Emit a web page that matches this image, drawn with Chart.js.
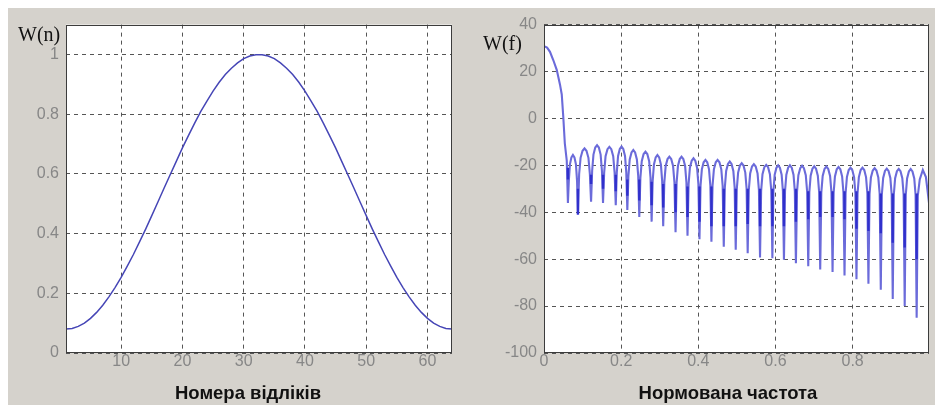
<!DOCTYPE html>
<html>
<head>
<meta charset="utf-8">
<script src="https://cdn.jsdelivr.net/npm/chart.js@4.4.0/dist/chart.umd.min.js"></script>
<style>
    body { margin: 0; width: 935px; height: 405px; overflow: hidden; position: relative; background: #fff; font-family: "Liberation Sans", Arial, sans-serif; }
    #panel { position: absolute; left: 8px; top: 8px; width: 927px; height: 397px; background: #d5d2cc; }
    canvas { position: absolute; top: 8px; }
    #winChart { left: 8px; }
    #specChart { left: 470px; }
    .ylab { position: absolute; font-family: "Liberation Serif", "DejaVu Serif", serif; font-size: 20px; line-height: 20px; color: #111; }
    .xlab { position: absolute; font-weight: bold; font-size: 18.5px; line-height: 22px; color: #111; transform: translate(-50%, -50%); white-space: nowrap; }
</style>
</head>
<body>
<div id="panel"></div>
<canvas id="winChart" width="462" height="397"></canvas>
<canvas id="specChart" width="465" height="397"></canvas>
<div class="ylab" style="left:18px; top:24px;">W(n)</div>
<div class="ylab" style="left:483px; top:33px;">W(f)</div>
<div class="xlab" style="left:248px; top:393px;">Номера відліків</div>
<div class="xlab" style="left:728px; top:393px;">Нормована частота</div>

<script>
// --- left plot: window samples ---
const winTicksX = [10, 20, 30, 40, 50, 60];
const winTicksY = [0, 0.2, 0.4, 0.6, 0.8, 1];
const hammingW = [
    0.080, 0.082, 0.089, 0.100, 0.116, 0.136, 0.160, 0.188, 0.219, 0.253, 0.291, 0.330, 0.372, 0.415, 0.460, 0.506,
    0.552, 0.597, 0.642, 0.687, 0.729, 0.770, 0.809, 0.844, 0.877, 0.907, 0.933, 0.954, 0.972, 0.986, 0.995, 0.999,
    0.999, 0.995, 0.986, 0.972, 0.954, 0.933, 0.907, 0.877, 0.844, 0.809, 0.770, 0.729, 0.687, 0.642, 0.597, 0.552,
    0.506, 0.460, 0.415, 0.372, 0.330, 0.291, 0.253, 0.219, 0.188, 0.160, 0.136, 0.116, 0.100, 0.089, 0.082, 0.080
];

// --- right plot: spectrum in dB ---
const specTicksX = [0, 0.2, 0.4, 0.6, 0.8];
const specTicksY = [-100, -80, -60, -40, -20, 0, 20, 40];
// main lobe
const mainF  = [0, 0.008, 0.0155, 0.024, 0.033, 0.0415, 0.046, 0.05, 0.054, 0.059];
const mainDb = [30.8, 30.2, 28.4, 24.9, 20.7, 14.4, 10.2, 0.6, -10.7, -18];
// nulls between side lobes
const nullF  = [0.062, 0.088, 0.122, 0.153, 0.186, 0.216, 0.247, 0.279, 0.309, 0.341, 0.372, 0.403, 0.434, 0.466, 0.497,
                0.528, 0.56, 0.592, 0.622, 0.653, 0.685, 0.716, 0.748, 0.779, 0.81, 0.841, 0.873, 0.904, 0.935, 0.966];
const nullDb = [-36, -41, -35.5, -36, -37, -39, -42, -44, -46, -48.5, -50, -51.5, -52.6, -54.7, -56,
                -57.5, -59.3, -59.6, -60.2, -61.7, -63, -64.4, -65.5, -67, -68.6, -70.5, -73, -77, -80, -85];
// side lobe tops (one per gap between nulls)
const lobePeakDb = [-15.6, -12.8, -11.4, -12.1, -12, -13.5, -14.2, -15.6, -16.3, -16.3, -17, -17.7, -17.7, -18.4, -19.1,
                    -19.5, -19.8, -20, -20, -20.2, -20.4, -20.5, -20.7, -21, -21, -21.2, -21.4, -21.5, -21.6];
// arch profile of one lobe: position inside the lobe and level under its top
const lobeShapeT  = [0.09, 0.2, 0.35, 0.5, 0.65, 0.8, 0.91];
const lobeShapeDb = [-11, -4, -1, 0, -1, -4, -11];
// last half lobe up to the end of the axis
const tailF  = [0.969, 0.974, 0.982, 0.99, 0.998];
const tailDb = [-33, -26, -22, -25, -36];
// darker overlapping part of each null spike
const darkTopDb    = [-21, -30, -24, -24, -24, -26, -26, -27, -28, -28, -29, -29, -29, -30, -30,
                      -30, -30, -30, -30, -30, -31, -31, -31, -31, -31, -31, -32, -32, -32, -32];
const darkBottomDb = [-26, -41, -28, -30, -31, -33, -35, -37, -38, -40, -42, -44, -46, -46, -46,
                      -45, -46, -46, -46, -44, -43, -42, -42, -43, -47, -48, -49, -53, -55, -60];

const GRID = '#555555';
const TICK_FONT = { family: '"Liberation Sans", Arial, sans-serif', size: 16 };
const TICK_COLOR = '#878787';

const plotBox = {
    id: 'plotBox',
    beforeDraw(chart) {
        const { ctx, chartArea: a } = chart;
        ctx.save();
        ctx.fillStyle = '#ffffff';
        ctx.fillRect(a.left, a.top, a.right - a.left, a.bottom - a.top);
        ctx.restore();
    },
    afterDraw(chart) {
        const { ctx, chartArea: a } = chart;
        ctx.save();
        ctx.strokeStyle = '#3c3c3c';
        ctx.lineWidth = 1;
        ctx.strokeRect(Math.round(a.left) + 0.5, Math.round(a.top) + 0.5, Math.round(a.right - a.left) - 1, Math.round(a.bottom - a.top) - 1);
        ctx.restore();
    }
};

function axes(xMin, xMax, xTicks, yMin, yMax, yTicks, yWidth) {
    const common = {
        type: 'linear',
        grid: { color: GRID, lineWidth: 1, drawTicks: false },
        border: { display: false, dash: [4, 4] },
        ticks: { color: TICK_COLOR, font: TICK_FONT, callback: v => String(v) }
    };
    return {
        x: {
            ...common, min: xMin, max: xMax,
            ticks: { ...common.ticks, padding: -1, maxRotation: 0 },
            afterBuildTicks: s => { s.ticks = xTicks.map(v => ({ value: v })); },
            afterFit: s => { s.height = 52; }
        },
        y: {
            ...common, min: yMin, max: yMax,
            ticks: { ...common.ticks, padding: 7 },
            afterBuildTicks: s => { s.ticks = yTicks.map(v => ({ value: v })); },
            afterFit: s => { s.width = yWidth; }
        }
    };
}

function baseOptions(scales, pad) {
    return {
        responsive: false,
        animation: false,
        events: [],
        layout: { padding: pad },
        plugins: { legend: { display: false }, tooltip: { enabled: false } },
        elements: { point: { radius: 0 }, line: { tension: 0 } },
        scales
    };
}

// left chart
new Chart(document.getElementById('winChart'), {
    type: 'line',
    data: {
        datasets: [{
            data: hammingW.map((w, i) => ({ x: i + 1, y: w })),
            borderColor: '#4646b6',
            borderWidth: 1.5,
            fill: false
        }]
    },
    options: baseOptions(axes(1, 64, winTicksX, 0, 1.1, winTicksY, 58), { top: 10, right: 18, left: 0, bottom: 0 }),
    plugins: [plotBox]
});

// right chart: build the polyline from main lobe, nulls and lobe tops
const specPoints = [];
mainF.forEach((f, i) => specPoints.push({ x: f, y: mainDb[i] }));
nullF.forEach((f, k) => {
    specPoints.push({ x: f, y: nullDb[k] });
    if (k < lobePeakDb.length) {
        const next = nullF[k + 1];
        lobeShapeT.forEach((t, j) => specPoints.push({ x: f + (next - f) * t, y: lobePeakDb[k] + lobeShapeDb[j] }));
    }
});
tailF.forEach((f, i) => specPoints.push({ x: f, y: tailDb[i] }));

const darkPoints = [];
nullF.forEach((f, k) => {
    darkPoints.push({ x: f, y: darkTopDb[k] }, { x: f, y: darkBottomDb[k] }, { x: f, y: null });
});

new Chart(document.getElementById('specChart'), {
    type: 'line',
    data: {
        datasets: [
            { data: darkPoints, borderColor: '#3030cc', borderWidth: 2.4, spanGaps: false, fill: false },
            { data: specPoints, borderColor: '#6b6bda', borderWidth: 2.1, fill: false }
        ]
    },
    options: baseOptions(axes(0, 0.998, specTicksX, -100, 40, specTicksY, 74), { top: 11, right: 6, left: 0, bottom: 0 }),
    plugins: [plotBox]
});
</script>
</body>
</html>
